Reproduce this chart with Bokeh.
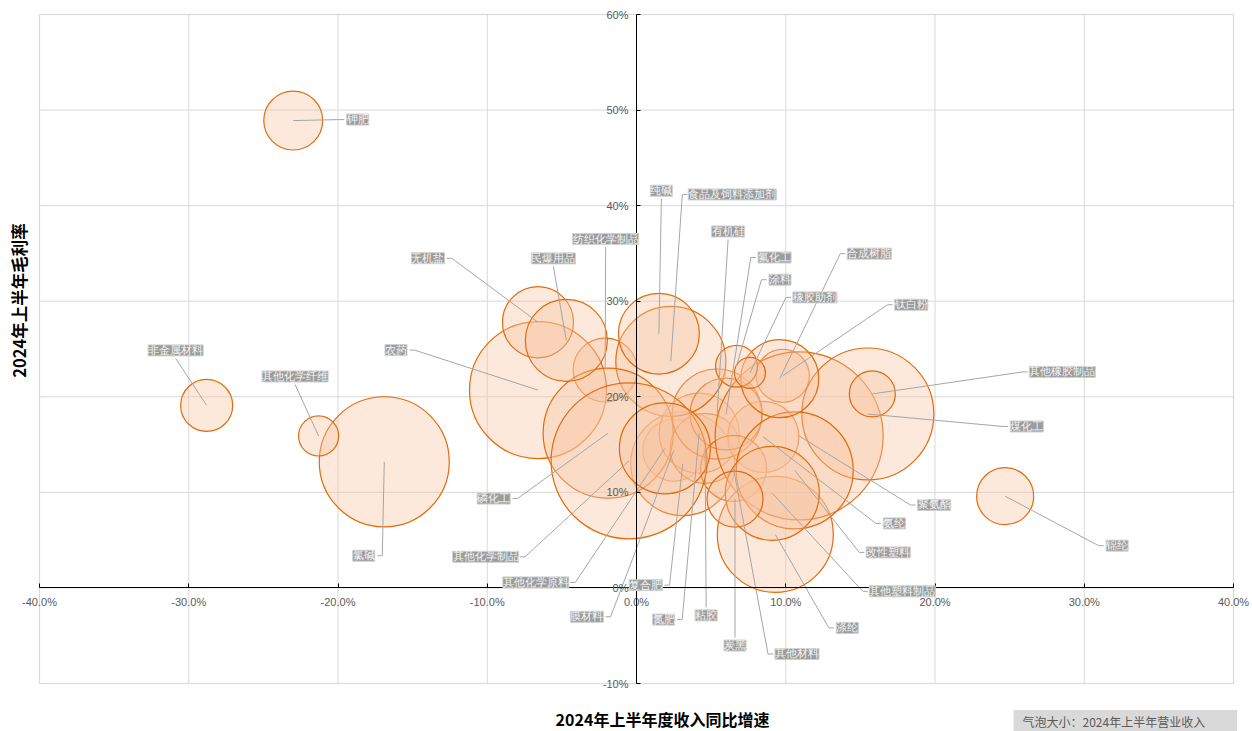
import math
from bokeh.plotting import figure
from bokeh.models import (Range1d, LinearAxis, FixedTicker, PrintfTickFormatter,
                          ColumnDataSource, LabelSet, Label, BoxAnnotation)
from bokeh.embed import file_html
from bokeh.resources import INLINE

# ---------------- data ----------------
names = ["纺织化学制品", "膜材料", "复合肥", "氮肥", "粘胶", "氨纶", "钛白粉", "有机硅", "氟化工",
         "其他材料", "涤纶", "食品及饲料添加剂", "农药", "氯碱", "磷化工", "钾肥", "非金属材料",
         "其他化学纤维", "无机盐", "民爆用品", "纯碱", "其他化学制品", "聚氨酯", "煤化工",
         "其他橡胶制品", "锦纶", "改性塑料", "其他塑料制品", "其他化学原料", "炭黑", "合成树脂",
         "涂料", "橡胶助剂"]
# 2024H1 revenue YoY growth (%)
growth = [-2.1, 2.5, 3.1, 4.2, 4.6, 8.5, 9.8, 5.4, 6.0,
          6.5, 9.3, 2.3, -6.6, -16.9, -1.9, -23.0, -28.8,
          -21.3, -6.6, -4.7, 1.5, -0.5, 10.9, 15.5,
          15.8, 24.7, 10.6, 9.1, 1.9, 6.6, 9.6,
          6.7, 7.6]
# 2024H1 gross margin (%)
margin = [22.8, 14.4, 13.0, 16.2, 14.6, 15.8, 22.2, 18.2, 18.2,
          12.5, 5.6, 23.7, 20.7, 13.2, 16.2, 48.9, 19.1,
          15.9, 27.8, 25.9, 26.6, 13.3, 15.9, 18.2,
          20.3, 9.6, 12.3, 9.9, 14.6, 9.3, 21.9,
          23.2, 22.5]
# 2024H1 revenue (亿元) -> bubble size
revenue = [145, 136, 383, 227, 174, 179, 100, 287, 184,
           154, 477, 429, 665, 599, 599, 123, 96,
           57, 179, 238, 232, 862, 1000, 617,
           75, 115, 485, 313, 293, 111, 216,
           62, 34]

x_ticks = [-40, -30, -20, -10, 0, 10, 20, 30, 40]
y_ticks = [-10, 0, 10, 20, 30, 40, 50, 60]

# ---------------- layout (pixels) ----------------
W, H = 1252, 731
X0, X1, Y0, Y1 = -40, 40, -10, 60
PL, PR, PT, PB = 39, 1233, 14, 683      # plot-area edges in canvas pixels
PX_X = (PR - PL) / (X1 - X0)
PX_Y = (PB - PT) / (Y1 - Y0)
MAX_DIAM = 168  # px diameter of the largest bubble

def px_to_data(px, py):
    return X0 + (px - PL) / PX_X, Y1 - (py - PT) / PX_Y

xs0, ys1 = px_to_data(0, 0)
xs1, ys0 = px_to_data(W, H)

# label offsets from bubble centre (px, screen, y down) and attach side
label_layout = {
    "钾肥": (64.5, -1, "L"), "纯碱": (2.5, -143, "B"), "食品及饲料添加剂": (61.5, -167, "L"),
    "有机硅": (11, -182.5, "B"), "纺织化学制品": (0.5, -131, "B"), "氟化工": (48.5, -156.5, "L"),
    "合成树脂": (89.5, -125, "L"), "无机盐": (-110, -64, "R"), "民爆用品": (-13, -82, "B"),
    "涂料": (43.5, -86.5, "L"), "橡胶助剂": (65, -75.5, "L"), "钛白粉": (128.5, -71, "L"),
    "非金属材料": (-31, -55, "B"), "农药": (-142, -40, "R"), "其他化学纤维": (-23.5, -59.5, "B"),
    "其他橡胶制品": (190, -22, "L"), "煤化工": (159, 12.5, "L"), "磷化工": (-114.5, 65.5, "R"),
    "聚氨酯": (135, 69, "L"), "锦纶": (112, 49.5, "L"), "氨纶": (131, 86.5, "L"),
    "其他化学制品": (-143.5, 96, "R"), "改性塑料": (93.5, 82, "L"), "氯碱": (-20.5, 94, "R"),
    "其他化学原料": (-129, 134, "R"), "复合肥": (-37, 121.5, "R"), "其他塑料制品": (130, 98, "L"),
    "膜材料": (-87, 166.5, "R"), "氮肥": (-35.5, 186.5, "R"), "粘胶": (1, 167, "T"),
    "涤纶": (72, 93.5, "L"), "炭黑": (0, 146.5, "T"), "其他材料": (63.5, 185.5, "L"),
}

maxrev = max(revenue)
sizes = [MAX_DIAM * math.sqrt(r / maxrev) for r in revenue]

lx, ly, xs, ys = [], [], [], []
for n, x, y in zip(names, growth, margin):
    dx, dy, side = label_layout[n]
    cx = x + dx / PX_X
    cy = y - dy / PX_Y
    hw = (len(n) * 10.5 + 6) / 2
    hh = 8
    if side == "L":
        ax, ay = cx - hw / PX_X, cy
        ex, ey = ax - 5 / PX_X, cy
    elif side == "R":
        ax, ay = cx + hw / PX_X, cy
        ex, ey = ax + 5 / PX_X, cy
    elif side == "B":
        ax, ay = cx, cy - hh / PX_Y
        ex, ey = ax, ay
    else:
        ax, ay = cx, cy + hh / PX_Y
        ex, ey = ax, ay
    lx.append(cx); ly.append(cy)
    xs.append([x, ex, ax]); ys.append([y, ey, ay])

src = ColumnDataSource(dict(name=names, x=growth, y=margin, size=sizes, lx=lx, ly=ly))
lsrc = ColumnDataSource(dict(xs=xs, ys=ys))

p = figure(width=W, height=H, output_backend="svg", toolbar_location=None,
           x_range=Range1d(xs0, xs1), y_range=Range1d(ys0, ys1),
           x_axis_location=None, y_axis_location=None,
           min_border_left=0, min_border_right=0, min_border_top=0, min_border_bottom=0)
p.outline_line_color = None
p.background_fill_color = "white"
p.border_fill_color = "white"
p.xgrid.visible = False
p.ygrid.visible = False

# grid lines limited to the plot area (drawn from the tick lists)
p.segment(x0=x_ticks, y0=[Y0] * len(x_ticks), x1=x_ticks, y1=[Y1] * len(x_ticks),
          line_color="#d9d9d9", line_width=1, level="underlay")
p.segment(x0=[X0] * len(y_ticks), y0=y_ticks, x1=[X1] * len(y_ticks), y1=y_ticks,
          line_color="#d9d9d9", line_width=1, level="underlay")
# plot-area frame
p.add_layout(BoxAnnotation(left=X0, right=X1, bottom=Y0, top=Y1, fill_alpha=0,
                           line_color="#d9d9d9", line_width=1.5, level="underlay"))

xaxis = LinearAxis(fixed_location=0, ticker=FixedTicker(ticks=x_ticks), bounds=(X0, X1),
                   formatter=PrintfTickFormatter(format="%.1f%%"))
yaxis = LinearAxis(fixed_location=0, ticker=FixedTicker(ticks=y_ticks), bounds=(Y0, Y1),
                   formatter=PrintfTickFormatter(format="%d%%"))
for ax_ in (xaxis, yaxis):
    ax_.axis_line_color = "black"
    ax_.axis_line_width = 1
    ax_.major_tick_line_color = "black"
    ax_.major_tick_in = 4
    ax_.major_tick_out = 0
    ax_.minor_tick_line_color = None
    ax_.major_label_text_font = "Liberation Sans"
    ax_.major_label_text_font_size = "11px"
    ax_.major_label_text_color = "#595959"
    ax_.major_label_standoff = 8
p.add_layout(xaxis, "below")
p.add_layout(yaxis, "left")

p.scatter("x", "y", size="size", source=src, marker="circle",
          fill_color="#F7C3A0", fill_alpha=0.37, line_color="#E26B0A", line_width=1.2)

p.multi_line("xs", "ys", source=lsrc, line_color="#a6a6a6", line_width=1)

labels = LabelSet(x="lx", y="ly", text="name", source=src, text_align="center",
                  text_baseline="middle", text_font="Noto Sans CJK SC", text_font_size="10.5px",
                  text_color="#f4f4f4", background_fill_color="#9c9c9c", background_fill_alpha=1.0,
                  border_line_color="#d0d0d0", border_line_width=1)
try:
    labels.padding = 3
except Exception:
    pass
p.add_layout(labels)

tx, ty = px_to_data(18, 300)
p.add_layout(Label(x=tx, y=ty, text="2024年上半年毛利率", angle=math.pi / 2,
                   text_align="center", text_baseline="middle", text_font="Noto Sans CJK SC",
                   text_font_size="16.5px", text_font_style="bold", text_color="black"))
tx, ty = px_to_data(662, 718)
p.add_layout(Label(x=tx, y=ty, text="2024年上半年度收入同比增速",
                   text_align="center", text_baseline="middle", text_font="Noto Sans CJK SC",
                   text_font_size="16px", text_font_style="bold", text_color="black"))
tx, ty = px_to_data(1013, 721)
leg = Label(x=tx, y=ty, text="气泡大小：2024年上半年营业收入",
            text_align="left", text_baseline="middle", text_font="Noto Sans CJK SC",
            text_font_size="12px", text_color="#595959",
            background_fill_color="#d9d9d9", background_fill_alpha=1.0)
try:
    leg.padding = dict(left=9, right=32, top=3, bottom=3)
except Exception:
    try:
        leg.padding = 4
    except Exception:
        pass
p.add_layout(leg)

open("out.html", "w").write(file_html(p, INLINE))
